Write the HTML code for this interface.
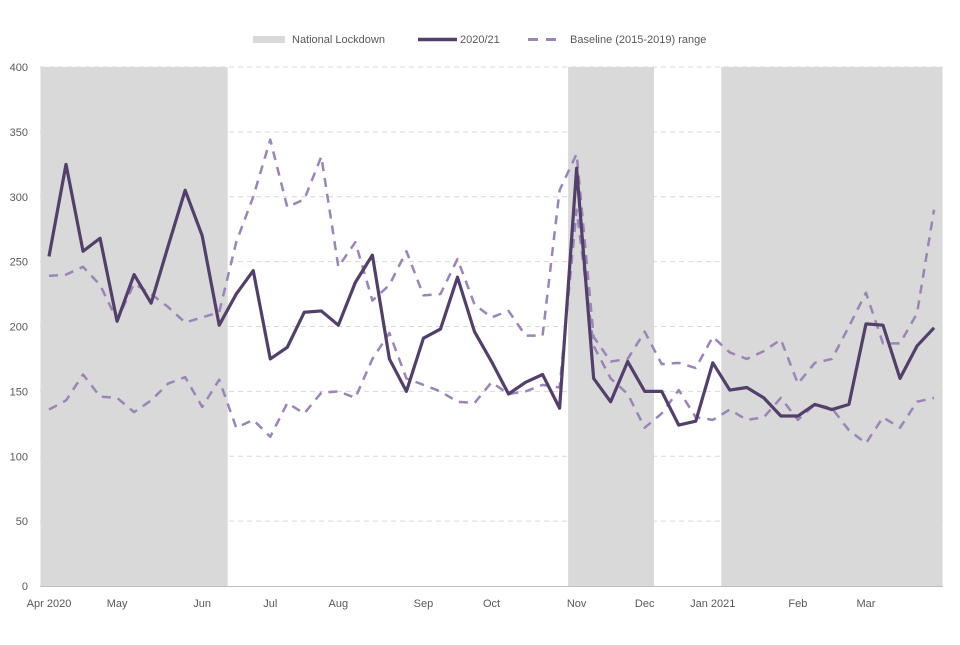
<!DOCTYPE html>
<html><head><meta charset="utf-8"><style>
body{margin:0;background:#fff;}
svg text{font-family:"Liberation Sans",sans-serif;fill:#595959;font-size:11px;}
</style></head><body>
<svg id="chart" width="960" height="640" xmlns="http://www.w3.org/2000/svg">
<g id="legend">
 <rect x="253" y="36" width="32" height="7" fill="#d9d9d9"/>
 <text x="292" y="43">National Lockdown</text>
 <line x1="418" y1="39.5" x2="457" y2="39.5" stroke="#533f6b" stroke-width="3.5"/>
 <text x="460" y="43">2020/21</text>
 <line x1="528" y1="39.5" x2="562" y2="39.5" stroke="#9b84b8" stroke-width="3" stroke-dasharray="10,8"/>
 <text x="570" y="43">Baseline (2015-2019) range</text>
</g>
<g id="shade"></g><g id="grid"></g><g id="axes"></g><g id="series"></g>
</svg>
<script>
const yTicks=[0,50,100,150,200,250,300,350,400];
const monthLabels=["Apr 2020","May","Jun","Jul","Aug","Sep","Oct","Nov","Dec","Jan 2021","Feb","Mar"];
const monthWeek=[0,4,9,13,17,22,26,31,35,39,44,48];
const lockdowns=[[-0.5,10.5],[30.5,35.55],[39.5,52.5]];
const actual=[254,325,258,268,204,240,218,262,305,270,201,225,243,175,184,211,212,201,234,255,175,150,191,198,238,196,173,148,157,163,137,322,160,142,173,150,150,124,127,172,151,153,145,131,131,140,136,140,202,201,160,185,199];
const upper=[239,240,246,232,205,233,225,215,203,207,211,265,300,344,292,298,331,246,265,220,232,258,224,225,252,217,207,212,193,193,305,333,192,173,175,196,171,172,168,192,180,175,181,190,156,172,175,200,226,187,187,210,290];
const lower=[136,143,163,146,145,134,143,156,161,138,159,122,128,115,141,133,149,150,145,175,195,160,155,150,142,141,157,148,150,155,153,290,185,160,148,122,133,151,130,128,136,128,130,145,128,140,137,120,110,130,122,142,145];
const NS="http://www.w3.org/2000/svg";
const X0=49,DX=17.02,L=40,R=943,Y0=586,YT=67;
const x=i=>X0+i*DX;
const y=v=>Y0-(v/400)*(Y0-YT);
function mk(t,a,p){const e=document.createElementNS(NS,t);for(const k in a)e.setAttribute(k,a[k]);document.getElementById(p).appendChild(e);return e;}
lockdowns.forEach((d,i)=>{
 const e=mk('rect',{x:Math.max(L,x(d[0])),y:YT,width:Math.min(R,x(d[1]))-Math.max(L,x(d[0])),height:Y0-YT,fill:'#d9d9d9'},'shade');
 
 
});
yTicks.forEach(v=>{
 if(v>0){const g=mk('line',{x1:L,x2:R,y1:y(v),y2:y(v),stroke:'#d9d9d9','stroke-dasharray':'5,4','stroke-width':1},'grid');
 
 }
 const t=mk('text',{x:28,y:y(v)+4,'text-anchor':'end'},'axes');t.textContent=v;
 
 
});
const ax=mk('line',{x1:L,x2:R,y1:Y0+0.5,y2:Y0+0.5,stroke:'#bfbfbf'},'axes');


monthLabels.forEach((m,i)=>{
 const t=mk('text',{x:x(monthWeek[i]),y:607,'text-anchor':'middle'},'axes');t.textContent=m;
 
 
});
function line(arr,st,dash,w,name){
 const e=mk('polyline',{points:arr.map((v,i)=>x(i)+','+y(v)).join(' '),fill:'none',stroke:st,'stroke-width':w,'stroke-dasharray':dash,'stroke-linejoin':'round'},'series');
 
 
}
line(upper,'#9b84b8','9,7',2.5,'baseline-upper-line');
line(lower,'#9b84b8','9,7',2.5,'baseline-lower-line');
line(actual,'#533f6b','none',3.2,'line-2020-21');
</script>
</body></html>
